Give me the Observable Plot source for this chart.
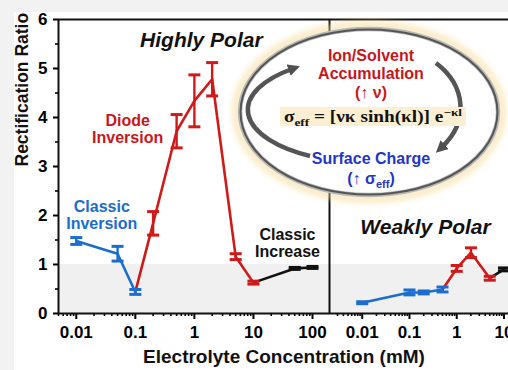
<!DOCTYPE html>
<html><head><meta charset="utf-8">
<script src="https://cdn.jsdelivr.net/npm/d3@7"></script>
<script src="https://cdn.jsdelivr.net/npm/@observablehq/plot@0.6"></script>
<style>
html,body{margin:0;padding:0;background:#f2f2f2;}
#wrap{position:relative;width:508px;height:370px;overflow:hidden;background:#f2f2f2;}
#paper{position:absolute;left:14px;top:12px;right:0;bottom:0;background:#fff;}
#wrap svg{position:absolute;left:0;top:0;overflow:visible;max-width:none !important;}
</style></head><body><div id="wrap"><div id="paper"></div></div>
<script>
// ---------- data ----------
const majorTicks = [0.01, 0.1, 1, 10, 100];
const majorTickLabels = ["0.01", "0.1", "1", "10", "100"];
const yTicks = [0, 1, 2, 3, 4, 5, 6];
const yTickLabels = ["0", "1", "2", "3", "4", "5", "6"];
const yMinorTicks = [0.5, 1.5, 2.5, 3.5, 4.5, 5.5];

// Highly polar panel
const hpBlueX = [0.01, 0.05, 0.1];
const hpBlueY = [1.48, 1.22, 0.44];
const hpBlueErr = [0.07, 0.15, 0.05];
const hpRedX = [0.1, 0.2, 0.5, 1, 2, 5, 10];
const hpRedY = [0.44, 1.84, 3.72, 4.34, 4.78, 1.16, 0.63];
const hpRedErr = [null, 0.24, 0.34, 0.53, 0.34, 0.06, 0.03];
const hpBlackX = [10, 50, 100];
const hpBlackY = [0.63, 0.92, 0.94];
const hpBlackErr = [null, 0.02, 0.02];

// Weakly polar panel
const wpBlueX = [0.01, 0.1, 0.2, 0.5];
const wpBlueY = [0.22, 0.43, 0.43, 0.49];
const wpBlueErr = [0.02, 0.05, 0.03, 0.05];
const wpRedX = [0.5, 1, 2, 5];
const wpRedY = [0.49, 0.92, 1.24, 0.72];
const wpRedErr = [null, 0.06, 0.1, 0.04];
const wpBlackX = [5, 10];
const wpBlackY = [0.72, 0.9];
const wpBlackErr = [null, 0.03];

// ---------- style ----------
const FONT = '"Liberation Sans", Arial, Helvetica, sans-serif';
const BLUE = "#1c6dd0", RED = "#d01a1a", BLACK = "#111";
const BAND = "#f0f0f0";

const rows = (xs, ys, es) => xs.map((x, i) => ({x, y: ys[i], e: es[i]}));
const capSym = {draw(ctx, size) { const w = Math.sqrt(size / Math.PI); ctx.moveTo(-w, 0); ctx.lineTo(w, 0); }};

function seriesMarks(data, color) {
  const ed = data.filter(d => d.e != null);
  return [
    Plot.line(data, {x: "x", y: "y", stroke: color, strokeWidth: 2.6}),
    Plot.ruleX(ed, {x: "x", y1: d => d.y - d.e, y2: d => d.y + d.e, stroke: color, strokeWidth: 2.4}),
    Plot.dot(ed, {x: "x", y: d => d.y - d.e, symbol: capSym, r: 6, stroke: color, fill: "none", strokeWidth: 3}),
    Plot.dot(ed, {x: "x", y: d => d.y + d.e, symbol: capSym, r: 6, stroke: color, fill: "none", strokeWidth: 3})
  ];
}
function minorFor(dom) {
  const out = [];
  for (let e = -4; e <= 3; e++) for (let m = 2; m <= 9; m++) { const v = m * Math.pow(10, e); if (v >= dom[0] && v <= dom[1]) out.push(v); }
  return out;
}
const fmt = d => majorTickLabels[majorTicks.indexOf(d)];
const yfmt = d => yTickLabels[yTicks.indexOf(d)];

function frameAndAxes(dom, withY) {
  const m = [
    Plot.rect([0], {x1: () => dom[0], x2: () => dom[1], y1: () => 0, y2: () => 1, fill: BAND}),
    Plot.axisX({ticks: majorTicks.filter(v => v >= dom[0] && v <= dom[1]), tickFormat: fmt, tickSize: 6, tickPadding: 6, fontSize: 17, fontWeight: "bold", strokeWidth: 2, label: null}),
    Plot.axisX({ticks: minorFor(dom), tickFormat: () => "", tickSize: 3, strokeWidth: 1.6, label: null}),
    Plot.ruleY([0, 6], {stroke: BLACK, strokeWidth: 2}),
    Plot.ruleX([dom[0]], {stroke: BLACK, strokeWidth: 2})
  ];
  if (withY) {
    m.push(
      Plot.axisY({ticks: yTicks, tickFormat: yfmt, tickSize: 5, tickPadding: 6, fontSize: 17, fontWeight: "bold", strokeWidth: 2, label: null}),
      Plot.axisY({ticks: yMinorTicks, tickFormat: () => "", tickSize: 3, strokeWidth: 1.6, label: null})
    );
  }
  return m;
}

const wrap = document.getElementById("wrap");

// ---------- Highly polar (left) ----------
const domL = [0.005, 194];
const left = Plot.plot({
  width: 508, height: 370,
  marginLeft: 58, marginRight: 179, marginTop: 19, marginBottom: 57,
  x: {type: "log", domain: domL, axis: null},
  y: {domain: [0, 6], axis: null},
  style: {background: "none", fontFamily: FONT, overflow: "visible", maxWidth: "none"},
  marks: [
    ...frameAndAxes(domL, true),
    ...seriesMarks(rows(hpBlackX, hpBlackY, hpBlackErr), BLACK),
    ...seriesMarks(rows(hpRedX, hpRedY, hpRedErr), RED),
    ...seriesMarks(rows(hpBlueX, hpBlueY, hpBlueErr), BLUE),
    Plot.text(["Highly Polar"], {text: d => d, x: () => 1.31, y: () => 5.57, fontSize: 21, fontWeight: "bold", fontStyle: "italic", fill: BLACK}),
    Plot.text(["Diode\nInversion"], {text: d => d, x: () => 0.074, y: () => 3.77, fontSize: 16, fontWeight: "bold", fill: "#c8161d", lineHeight: 1.05}),
    Plot.text(["Classic\nInversion"], {text: d => d, x: () => 0.027, y: () => 2.0, fontSize: 16, fontWeight: "bold", fill: BLUE, lineHeight: 1.05}),
    Plot.text(["Classic\nIncrease"], {text: d => d, x: () => 37.7, y: () => 1.44, fontSize: 16, fontWeight: "bold", fill: BLACK, lineHeight: 1.05}),
    Plot.text(["Rectification Ratio"], {text: d => d, frameAnchor: "left", dx: -36, rotate: -90, fontSize: 17.5, fontWeight: "bold", fill: BLACK}),
    Plot.text(["Electrolyte Concentration (mM)"], {text: d => d, frameAnchor: "bottom", dx: 90, dy: 49, fontSize: 19, fontWeight: "bold", fill: BLACK})
  ]
});
wrap.appendChild(left);

// ---------- Weakly polar (right) ----------
const domR = [0.00203, 1000];
const right = Plot.plot({
  width: 598, height: 370,
  marginLeft: 329, marginRight: 0, marginTop: 19, marginBottom: 57,
  x: {type: "log", domain: domR, axis: null},
  y: {domain: [0, 6], axis: null},
  style: {background: "none", fontFamily: FONT, overflow: "visible", maxWidth: "none"},
  marks: [
    ...frameAndAxes(domR, false),
    ...seriesMarks(rows(wpBlackX, wpBlackY, wpBlackErr), BLACK),
    ...seriesMarks(rows(wpRedX, wpRedY, wpRedErr), RED),
    ...seriesMarks(rows(wpBlueX, wpBlueY, wpBlueErr), BLUE),
    Plot.text(["Weakly Polar"], {text: d => d, x: () => 0.218, y: () => 1.755, fontSize: 21, fontWeight: "bold", fontStyle: "italic", fill: BLACK})
  ]
});
wrap.appendChild(right);

// ---------- mechanism diagram overlay ----------
const ov = d3.create("svg").attr("width", 508).attr("height", 370);
const defs = ov.append("defs");
defs.append("filter").attr("id", "glow").attr("x", "-20%").attr("y", "-20%").attr("width", "140%").attr("height", "140%")
  .append("feGaussianBlur").attr("stdDeviation", 3);
defs.append("marker").attr("id", "ah").attr("viewBox", "0 0 10 10").attr("refX", 3).attr("refY", 5)
  .attr("markerWidth", 12).attr("markerHeight", 12).attr("markerUnits", "userSpaceOnUse").attr("orient", "auto")
  .append("path").attr("d", "M0,0 L10,5 L0,10 Z").attr("fill", "#505050");

const cx = 369, cy = 112, rx = 129, ry = 83;
ov.append("ellipse").attr("cx", cx).attr("cy", cy).attr("rx", rx + 4).attr("ry", ry + 4)
  .attr("fill", "none").attr("stroke", "#f5d88c").attr("stroke-width", 8).attr("opacity", 0.55).attr("filter", "url(#glow)");
ov.append("ellipse").attr("cx", cx).attr("cy", cy).attr("rx", rx).attr("ry", ry)
  .attr("fill", "#fff").attr("stroke", "#b8b8b8").attr("stroke-width", 4.5);
ov.append("ellipse").attr("cx", cx).attr("cy", cy).attr("rx", rx - 0.5).attr("ry", ry - 0.5)
  .attr("fill", "none").attr("stroke", "#555").attr("stroke-width", 2);

ov.append("path").attr("d", "M 310 156 A 122 53 0 0 1 292 69")
  .attr("fill", "none").attr("stroke", "#555").attr("stroke-width", 4.5).attr("marker-end", "url(#ah)");
ov.append("path").attr("d", "M 436 63 A 87 64 0 0 1 442 147")
  .attr("fill", "none").attr("stroke", "#555").attr("stroke-width", 4.5).attr("marker-end", "url(#ah)");

function label(x, y, str, color, size) {
  return ov.append("text").attr("x", x).attr("y", y).attr("dy", "0.35em").attr("text-anchor", "middle")
    .attr("font-family", FONT).attr("font-weight", "bold").attr("font-size", size).attr("fill", color).text(str);
}
label(371, 55, "Ion/Solvent", "#c8161d", 16);
label(371, 73, "Accumulation", "#c8161d", 16);
label(371, 92, "(↑ ν)", "#c8161d", 16);

ov.append("rect").attr("x", 280).attr("y", 107).attr("width", 186).attr("height", 19).attr("fill", "#fcefd2");
const f = ov.append("text").attr("x", 373).attr("y", 116.5).attr("dy", "0.35em").attr("text-anchor", "middle")
  .attr("font-family", '"Liberation Serif","DejaVu Serif",serif').attr("font-weight", "bold").attr("font-size", 16)
  .attr("fill", "#111").attr("textLength", 178).attr("lengthAdjust", "spacingAndGlyphs");
f.append("tspan").text("σ");
f.append("tspan").attr("font-size", 11).attr("dy", 4).text("eff");
f.append("tspan").attr("dy", -4).text(" = [νκ sinh(κl)] e");
f.append("tspan").attr("font-size", 11).attr("dy", -6).text("−κl");

label(371, 158, "Surface Charge", "#1f36c9", 16);
const s = label(371, 178, "", "#1f36c9", 16);
s.append("tspan").text("(↑ σ");
s.append("tspan").attr("font-size", 11).attr("dy", 4).text("eff");
s.append("tspan").attr("dy", -4).text(")");

wrap.appendChild(ov.node());
</script></body></html>
